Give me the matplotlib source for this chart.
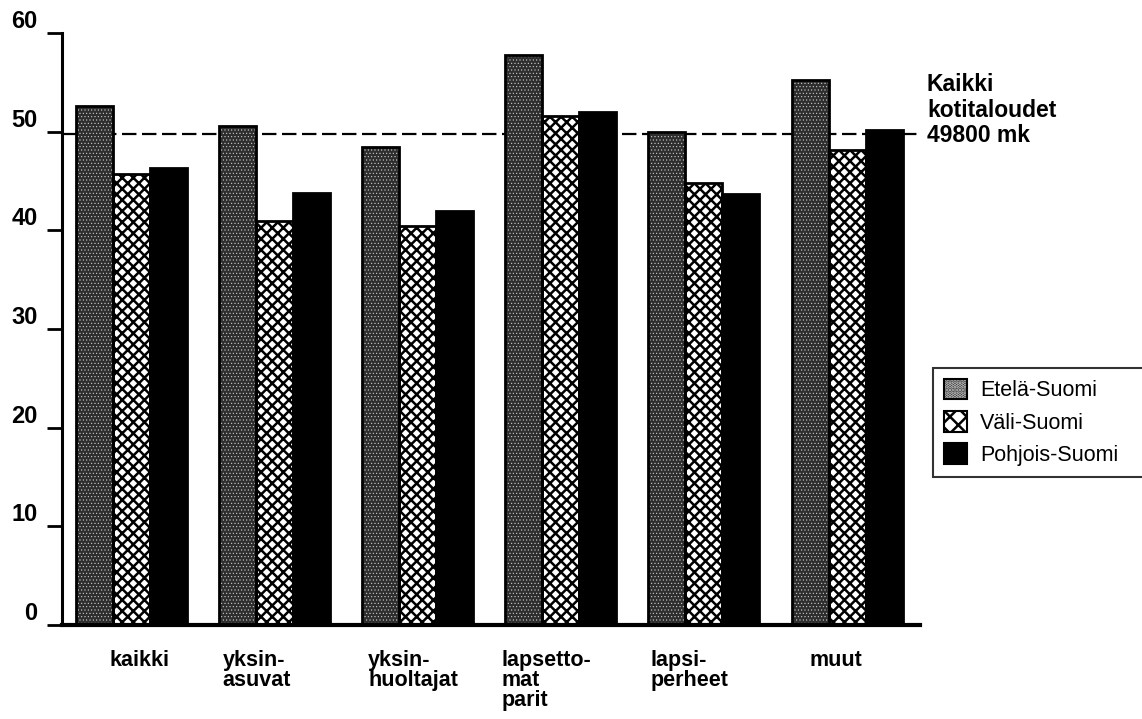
import matplotlib
matplotlib.use('Agg')
import matplotlib.pyplot as plt
import matplotlib.patches as mpatches
import matplotlib.transforms as mtransforms
from matplotlib.legend_handler import HandlerTuple
import numpy as np

# ---- data ----
categories = ['kaikki', 'yksin-\nasuvat', 'yksin-\nhuoltajat', 'lapsetto-\nmat\nparit',
              'lapsi-\nperheet', 'muut']
series_names = ['Etelä-Suomi', 'Väli-Suomi', 'Pohjois-Suomi']
etela = [52.6, 50.6, 48.4, 57.8, 50.0, 55.2]
vali = [45.7, 40.9, 40.4, 51.6, 44.8, 48.1]
pohjois = [46.3, 43.8, 42.0, 52.0, 43.7, 50.2]
all_households = 49.8
yticks = [0, 10, 20, 30, 40, 50, 60]
annotation = 'Kaikki\nkotitaloudet\n49800 mk'

# ---- layout ----
label_offsets = [-0.157, -0.363, -0.346, -0.412, -0.374, -0.259]

plt.rcParams['font.family'] = ['Liberation Sans', 'DejaVu Sans']
plt.rcParams['hatch.linewidth'] = 1.8

W, H = 1142, 719
fig = plt.figure(figsize=(W / 100, H / 100), dpi=100)
ax = fig.add_axes([62 / W, 94 / H, (920 - 62) / W, (625 - 33) / H])

x = np.arange(len(categories))
w = 0.2586

ET_FACE = '#2e2e2e'
ET_HATCH = '.....'

# Etelä: stippled gray
with plt.rc_context({'hatch.linewidth': 0.4}):
    ax.bar(x - w, etela, w, color=ET_FACE, edgecolor='#cfcfcf', hatch=ET_HATCH,
           linewidth=0, zorder=2)
    h_et_fill = mpatches.Patch(facecolor=ET_FACE, edgecolor='#cfcfcf', hatch=ET_HATCH,
                               linewidth=0)
ax.bar(x - w, etela, w, fill=False, edgecolor='black', linewidth=2, zorder=3)
# Väli: cross hatch
ax.bar(x, vali, w, color='white', edgecolor='black', hatch='xxx', linewidth=2, zorder=2)
# Pohjois: solid black
ax.bar(x + w, pohjois, w, color='black', edgecolor='black', linewidth=2, zorder=2)

ax.axhline(all_households, color='black', lw=1.6, dashes=(6.5, 2.5), zorder=1)

ax.set_xlim(-0.486, 5.51)
ax.set_ylim(0, 60)
ax.set_yticks(yticks)
ax.set_yticklabels([str(v) for v in yticks], fontsize=17, fontweight='bold')
for lbl in ax.get_yticklabels():
    lbl.set_verticalalignment('bottom')
ax.set_xticks([])
ax.tick_params(axis='y', direction='out', length=11, width=2, pad=6.5)
for s in ['top', 'right']:
    ax.spines[s].set_visible(False)
ax.spines['left'].set_linewidth(2.2)
ax.spines['bottom'].set_linewidth(3)

trans = mtransforms.blended_transform_factory(ax.transData, ax.transAxes)
for i, cat in enumerate(categories):
    ax.text(x[i] + label_offsets[i], -0.042, cat, transform=trans, ha='left', va='top',
            fontsize=15.5, fontweight='bold', linespacing=0.95)

fig.text(927 / W, 1 - 73 / H, annotation, ha='left', va='top', fontsize=16.5,
         fontweight='bold', linespacing=1.15)

# legend
h_et = (h_et_fill, mpatches.Patch(fill=False, edgecolor='black', linewidth=1.5))
h_va = mpatches.Patch(facecolor='white', edgecolor='black', hatch='xx', linewidth=1.5)
h_po = mpatches.Patch(facecolor='black', edgecolor='black', linewidth=1.5)
leg = fig.legend([h_et, h_va, h_po], series_names,
                 handler_map={tuple: HandlerTuple(ndivide=1, pad=0)},
                 loc='upper left', bbox_to_anchor=(933 / W, 1 - 368 / H, 230 / W, 0),
                 bbox_transform=fig.transFigure, mode='expand', borderaxespad=0,
                 fontsize=15.5, handlelength=1.1, handleheight=1.1, handletextpad=0.6,
                 borderpad=0.5, labelspacing=0.45, fancybox=False, frameon=True)
leg.get_frame().set_edgecolor('black')
leg.get_frame().set_linewidth(1.5)

fig.savefig('out.png', dpi=100)
